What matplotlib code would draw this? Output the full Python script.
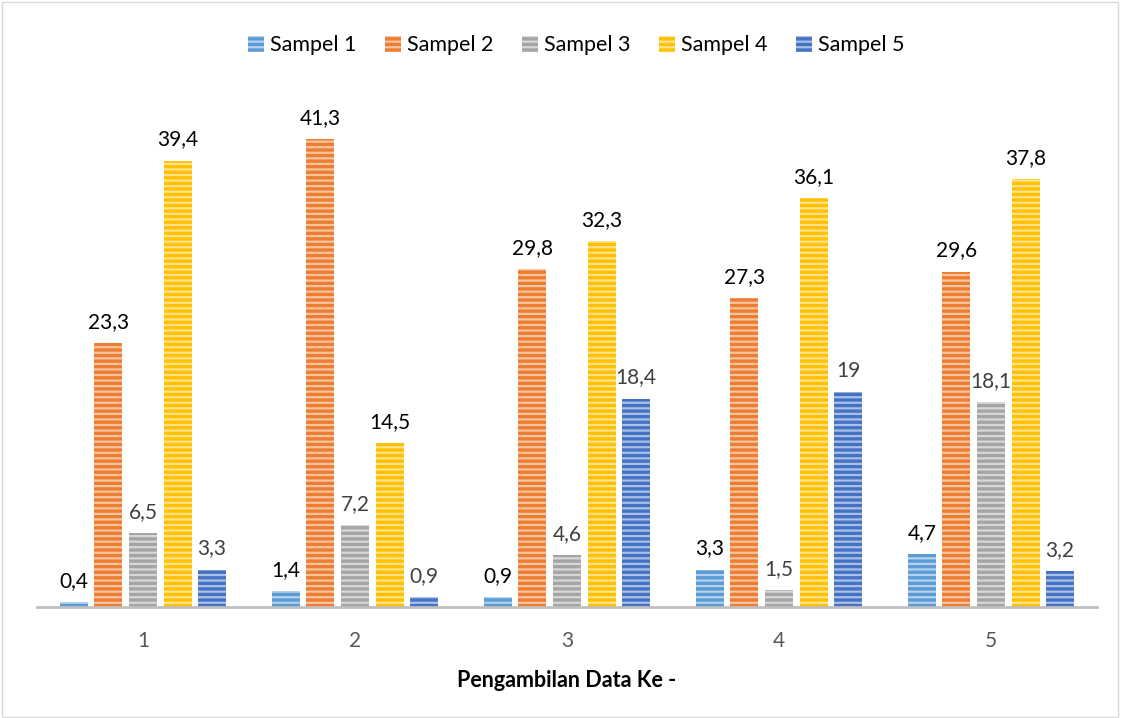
import numpy as np
import matplotlib

matplotlib.use("Agg")
import matplotlib.pyplot as plt
from matplotlib.patches import Rectangle

plt.rcParams["font.family"] = ["Lato", "DejaVu Sans"]
plt.rcParams["hatch.linewidth"] = 1.6

# data
groups = ["1", "2", "3", "4", "5"]
series = ["Sampel 1", "Sampel 2", "Sampel 3", "Sampel 4", "Sampel 5"]
sampel1 = [0.4, 1.4, 0.9, 3.3, 4.7]
sampel2 = [23.3, 41.3, 29.8, 27.3, 29.6]
sampel3 = [6.5, 7.2, 4.6, 1.5, 18.1]
sampel4 = [39.4, 14.5, 32.3, 36.1, 37.8]
sampel5 = [3.3, 0.9, 18.4, 19, 3.2]
values = [sampel1, sampel2, sampel3, sampel4, sampel5]

colors = ["#5B9BD5", "#ED7D31", "#A5A5A5", "#FFC000", "#4472C4"]
label_colors = ["#000000", "#000000", "#404040", "#000000", "#404040"]


def tint(c, f=0.55):
    rgb = np.array(matplotlib.colors.to_rgb(c))
    return tuple(rgb + (1 - rgb) * f)


fig = plt.figure(figsize=(11.21, 7.18), dpi=100)
ax = fig.add_axes([0.033, 0.1546, 0.9456, 0.71])

x = np.arange(1, len(groups) + 1)
width = 0.132
step = 0.163
handles = []
for i, (name, vals) in enumerate(zip(series, values)):
    pos = x + (i - 2) * step
    bars = ax.bar(pos, vals, width, color=colors[i], edgecolor=tint(colors[i]),
                  linewidth=0, hatch="---", label=name)
    handles.append(bars)
    for xp, v in zip(pos, vals):
        txt = f"{v:g}".replace(".", ",")
        ax.annotate(txt, (xp, v), xytext=(0, 8), textcoords="offset points",
                    ha="center", va="bottom", fontsize=15, color=label_colors[i])

ax.set_xlim(0.5, 5.5)
ax.set_ylim(0, 45)
ax.set_xticks(x)
ax.set_xticklabels(groups, fontsize=15, color="#595959")
ax.tick_params(axis="x", length=0, pad=17)
ax.set_yticks([])
for s in ["left", "right", "top"]:
    ax.spines[s].set_visible(False)
ax.spines["bottom"].set_color("#BFBFBF")
ax.spines["bottom"].set_linewidth(2)
ax.set_xlabel("Pengambilan Data Ke -", fontsize=15.5, fontweight="bold", labelpad=14)

fig.legend(handles=handles, loc="center", bbox_to_anchor=(0.514, 0.937), ncol=5,
           frameon=False, fontsize=15.5, handlelength=0.75, handleheight=0.8,
           handletextpad=0.3, columnspacing=1.3)

# chart border
fig.patches.append(Rectangle((0.002, 0.002), 0.995, 0.995, transform=fig.transFigure,
                             fill=False, edgecolor="#D9D9D9", linewidth=1))

fig.savefig("out.png", dpi=100)
